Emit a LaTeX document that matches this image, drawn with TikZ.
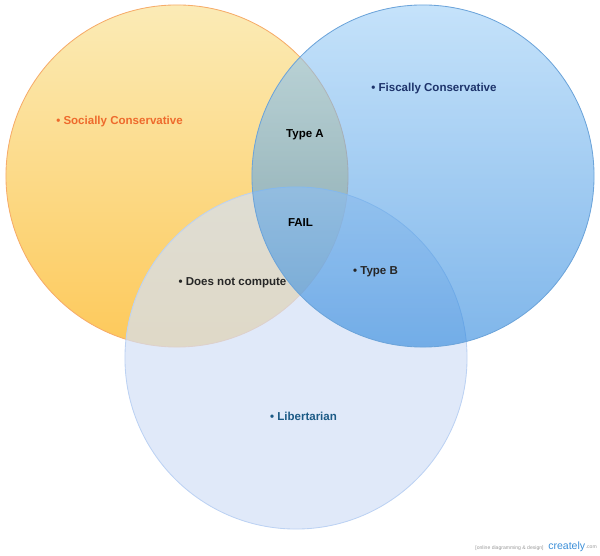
\documentclass[tikz,border=0pt]{standalone}
\usepackage{fontspec}
\setmainfont{Liberation Sans}
\usepackage{xcolor}
\usepackage{tikz}

\definecolor{socTop}{HTML}{FBEBB6}
\definecolor{socBot}{HTML}{FDC95A}
\definecolor{socLine}{HTML}{F6AC6A}
\definecolor{fisTop}{RGB}{158,207,247}
\definecolor{fisBot}{RGB}{42,133,220}
\definecolor{fisLine}{HTML}{6CA4DA}
\definecolor{libFill}{RGB}{211,224,246}
\definecolor{libLine}{HTML}{BCD2F3}
\definecolor{socText}{HTML}{EE6A2C}
\definecolor{fisText}{HTML}{1D336B}
\definecolor{libText}{HTML}{1C5A86}
\definecolor{midText}{HTML}{262626}
\definecolor{markGray}{HTML}{9A9A9A}
\definecolor{markBlue}{HTML}{3C8FD8}

\begin{document}
\begin{tikzpicture}[x=0.025cm,y=-0.025cm,
  set/.style={circle,minimum size=8.55cm,inner sep=0pt,line width=0.6pt},
  lbl/.style={font=\bfseries\fontsize{8.2}{10}\selectfont,inner sep=0pt}]
  \useasboundingbox (0,0) rectangle (600,556);
  % the three sets
  \node[set,draw=socLine,top color=socTop,bottom color=socBot] (soc) at (177,176) {};
  \node[set,draw=libLine,fill=libFill,fill opacity=0.7] (lib) at (296,358) {};
  \node[set,draw=fisLine,top color=fisTop,bottom color=fisBot,fill opacity=0.6] (fis) at (423,176) {};
  % labels
  \node[lbl,text=socText] (soclbl) at (119.5,122) {\textbullet\ Socially Conservative};
  \node[lbl,text=fisText] (fislbl) at (434,89) {\textbullet\ Fiscally Conservative};
  \node[lbl,text=black] (typea) at (305,135) {Type A};
  \node[lbl,text=black] (fail) at (300.5,223) {FAIL};
  \node[lbl,text=midText] (nocomp) at (232.5,283) {\textbullet\ Does not compute};
  \node[lbl,text=midText] (typeb) at (375.5,272) {\textbullet\ Type B};
  \node[lbl,text=libText] (liblbl) at (303.5,416) {\textbullet\ Libertarian};
  % watermark
  \node[inner sep=0pt,text=markGray,font=\fontsize{3.6}{4}\selectfont] (mark) at (509.5,548) {[online diagramming \& design]};
  \node[inner sep=0pt,anchor=west,text=markBlue,font=\fontsize{7.5}{8}\selectfont] (logo) at (548,547) {creately};
  \node[inner sep=0pt,anchor=west,text=markGray,font=\fontsize{3.6}{4}\selectfont] (dotcom) at (logo.east) {.com};
\end{tikzpicture}
\end{document}
